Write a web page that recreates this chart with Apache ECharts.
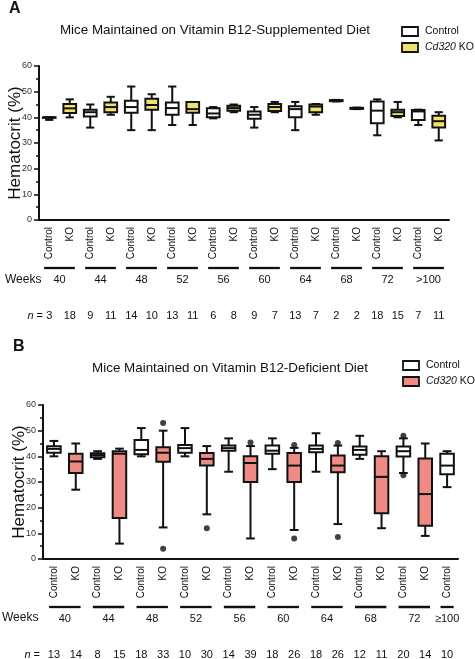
<!DOCTYPE html>
<html>
<head>
<meta charset="utf-8">
<script src="https://cdn.jsdelivr.net/npm/echarts@6/dist/echarts.min.js"></script>
<style>
html,body{margin:0;padding:0;background:#fff;}
#chart{width:475px;height:659px;}
</style>
</head>
<body>
<div id="chart"></div>
<script>
// ---------- Panel A: B12-supplemented diet ----------
const weeksA = ['40', '44', '48', '52', '56', '60', '64', '68', '72', '>100'];
// [min, q1, median, q3, max]
const controlA = [
  [39, 39.8, 40, 40, 40],
  [36, 40.3, 42, 43, 45],
  [35, 41.8, 44, 46.5, 52],
  [37, 41, 43.6, 45.8, 52],
  [39.6, 40, 41.5, 43.5, 44],
  [36, 39.4, 41, 42.3, 44],
  [35, 40, 43.2, 44.3, 46],
  [46.2, 46.3, 46.5, 46.7, 46.8],
  [33, 37.7, 42.6, 46.2, 47],
  [37, 39, 42.3, 42.9, 43]
];
const koA = [
  [40, 41.7, 43.5, 45.2, 47],
  [41, 42, 44, 45.8, 48],
  [35, 43, 44.8, 47.2, 49],
  [37, 41.8, 43.2, 46, 46],
  [42, 42.6, 43.6, 44.5, 45],
  [42, 42.5, 44, 45.2, 46],
  [41, 42, 44.2, 45, 45.2],
  [43.2, 43.3, 43.5, 43.7, 43.8],
  [40, 40.5, 42, 43, 46],
  [31, 36, 38.5, 40.6, 42]
];
const nControlA = [3, 9, 14, 13, 6, 9, 13, 2, 18, 7];
const nKoA = [18, 11, 10, 11, 8, 7, 7, 2, 15, 11];

// ---------- Panel B: B12-deficient diet ----------
const weeksB = ['40', '44', '48', '52', '56', '60', '64', '68', '72', '≥100'];
const controlB = [
  [40, 41.4, 42.9, 43.9, 46],
  [39, 39.6, 40.5, 41.2, 42],
  [40, 40.8, 42.5, 46.4, 51],
  [40, 41.4, 43.2, 44.4, 51],
  [34, 42.2, 43.2, 44.2, 47],
  [35, 41, 42.2, 44.2, 47],
  [34, 41.6, 42.9, 44.2, 49],
  [39, 40.6, 42.5, 43.8, 48],
  [33.5, 39.9, 42, 43.8, 47],
  [28, 33, 36.4, 41, 42]
];
const koB = [
  [27, 33.5, 38, 41, 45],
  [6, 16, 41, 42, 43],
  [12.3, 37.9, 41.4, 43.5, 50],
  [17.4, 36.4, 39, 41.3, 44],
  [8, 30, 37.4, 40, 44],
  [11.3, 30, 36.4, 41.3, 43.3],
  [13.6, 33.8, 36.4, 40.3, 44.2],
  [12, 17.8, 32, 40, 42],
  [9, 13, 25.3, 39.2, 45]
];
// outliers: [weekIndex, value]
const outlierControlB = [[8, 48], [8, 32.6]];
const outlierKoB = [[2, 53], [2, 4], [3, 12], [4, 45.4], [5, 44.4], [5, 8], [6, 45.2], [6, 8.6]];
const nControlB = [13, 8, 18, 10, 14, 18, 18, 12, 20, 10];
const nKoB = [14, 15, 33, 30, 39, 26, 26, 11, 14];

const yTicks = [0, 10, 20, 30, 40, 50, 60];

// ---------- build helpers ----------
function buildCats(weeks, koCount) {
  const cats = [];
  weeks.forEach((w, i) => { cats.push('Control'); if (i < koCount) cats.push('KO'); });
  return cats;
}
const catA = buildCats(weeksA, koA.length);
const catB = buildCats(weeksB, koB.length);

function slotOf(i, grp) { return 2 * i + (grp === 'KO' ? 1 : 0); }

function boxData(stats, grp) {
  return stats.map((s, i) => [slotOf(i, grp)].concat(s));
}
function nData(nc, nk) {
  const out = [];
  nc.forEach((n, i) => out.push([slotOf(i, 'Control'), n]));
  nk.forEach((n, i) => out.push([slotOf(i, 'KO'), n]));
  return out;
}
function weekData(weeks, koCount) {
  return weeks.map((w, i) => [slotOf(i, 'Control'), i < koCount ? slotOf(i, 'KO') : slotOf(i, 'Control'), i]);
}

const FONT = '"Liberation Sans", Arial, Helvetica, sans-serif';
const INK = '#111';

function boxRender(fill) {
  return function (params, api) {
    const x = api.value(0);
    const p = [1, 2, 3, 4, 5].map(k => api.coord([x, api.value(k)]));
    const cx = p[0][0];
    const slot = api.size([1, 0])[0];
    const bw = slot * 0.62, cw = slot * 0.4;
    const yMin = p[0][1], yQ1 = p[1][1], yMed = p[2][1], yQ3 = p[3][1], yMax = p[4][1];
    const ls = { stroke: INK, lineWidth: 2 };
    return {
      type: 'group',
      children: [
        { type: 'line', shape: { x1: cx, y1: yQ3, x2: cx, y2: yMax }, style: ls },
        { type: 'line', shape: { x1: cx, y1: yQ1, x2: cx, y2: yMin }, style: ls },
        { type: 'line', shape: { x1: cx - cw / 2, y1: yMax, x2: cx + cw / 2, y2: yMax }, style: ls },
        { type: 'line', shape: { x1: cx - cw / 2, y1: yMin, x2: cx + cw / 2, y2: yMin }, style: ls },
        { type: 'rect', shape: { x: cx - bw / 2, y: yQ3, width: bw, height: Math.max(yQ1 - yQ3, 0.5) },
          style: { fill: fill, stroke: INK, lineWidth: 2 } },
        { type: 'line', shape: { x1: cx - bw / 2, y1: yMed, x2: cx + bw / 2, y2: yMed }, style: ls }
      ]
    };
  };
}

function weekRender(weeks, halfPair, halfSingle) {
  return function (params, api) {
    const a = api.coord([api.value(0), 0]);
    const b = api.coord([api.value(1), 0]);
    const slot = api.size([1, 0])[0];
    const mid = (a[0] + b[0]) / 2;
    const single = api.value(0) === api.value(1);
    const half = single ? slot * halfSingle : slot * halfPair;
    const y0 = a[1];
    return {
      type: 'group',
      children: [
        { type: 'line', shape: { x1: mid - half, y1: y0 + 48, x2: mid + half, y2: y0 + 48 },
          style: { stroke: INK, lineWidth: 2.3 } },
        { type: 'text', x: mid, y: y0 + 60,
          style: { text: weeks[params.dataIndex], fill: INK, font: '11px ' + FONT, align: 'center', verticalAlign: 'middle' } }
      ]
    };
  };
}

function nRender(params, api) {
  const c = api.coord([api.value(0), 0]);
  return {
    type: 'text', x: c[0], y: c[1] + 96,
    style: { text: String(api.value(1)), fill: INK, font: '11px ' + FONT, align: 'center', verticalAlign: 'middle' }
  };
}

function outlierData(list, grp) { return list.map(o => [slotOf(o[0], grp), o[1]]); }

function yAxis(gi) {
  return {
    type: 'value', gridIndex: gi, min: yTicks[0], max: yTicks[yTicks.length - 1], interval: 10,
    axisLine: { show: true, lineStyle: { color: INK, width: 2 } },
    axisTick: { show: true, length: 5, lineStyle: { color: INK, width: 1.5 } },
    minorTick: { show: true, splitNumber: 2, length: 3, lineStyle: { color: INK, width: 1.5 } },
    splitLine: { show: false },
    axisLabel: { fontSize: 9, color: '#333', margin: 7, fontFamily: FONT },
    name: 'Hematocrit (%)', nameLocation: 'middle', nameGap: 15, nameMoveOverlap: false,
    nameTextStyle: { fontSize: 17, color: INK, fontFamily: FONT }
  };
}
function xAxis(gi, cats) {
  return {
    type: 'category', gridIndex: gi, data: cats, boundaryGap: true,
    axisLine: { lineStyle: { color: INK, width: 2 } },
    axisTick: { alignWithLabel: true, length: 5, lineStyle: { color: INK, width: 1.5 } },
    axisLabel: { rotate: 90, fontSize: 10, color: INK, margin: 7, interval: 0, fontFamily: FONT },
    splitLine: { show: false }
  };
}

const YELLOW = '#f0e36b';
const SALMON = '#f08a84';

function legend(x, y, fill) {
  return [
    { type: 'rect', shape: { x: x, y: y, width: 16, height: 9 }, style: { fill: '#fff', stroke: INK, lineWidth: 1.8 } },
    { type: 'text', x: x + 23, y: y + 4.5, style: { text: 'Control', font: '10.5px ' + FONT, fill: INK, verticalAlign: 'middle' } },
    { type: 'rect', shape: { x: x, y: y + 16, width: 16, height: 9 }, style: { fill: fill, stroke: INK, lineWidth: 1.8 } },
    { type: 'text', x: x + 23, y: y + 20.5, style: { text: '{i|Cd320} KO', font: '10.5px ' + FONT, fill: INK, verticalAlign: 'middle',
      rich: { i: { fontStyle: 'italic', fontSize: 10.5, fontFamily: FONT, fill: INK } } } }
  ];
}

const chart = echarts.init(document.getElementById('chart'), null, { renderer: 'canvas' });
chart.setOption({
  animation: false,
  backgroundColor: '#fff',
  textStyle: { fontFamily: FONT },
  grid: [
    { left: 39, right: 26, top: 66, bottom: 439, outerBoundsMode: 'none' },
    { left: 43, right: 17, top: 405, bottom: 100, outerBoundsMode: 'none' }
  ],
  xAxis: [xAxis(0, catA), xAxis(1, catB)],
  yAxis: [yAxis(0), yAxis(1)],
  graphic: [
    { type: 'text', x: 9, y: 1, style: { text: 'A', font: 'bold 16px ' + FONT, fill: INK } },
    { type: 'text', x: 13, y: 339, style: { text: 'B', font: 'bold 16px ' + FONT, fill: INK } },
    { type: 'text', x: 215, y: 30, style: { text: 'Mice Maintained on Vitamin B12-Supplemented Diet', font: '13.4px ' + FONT, fill: INK, align: 'center', verticalAlign: 'middle' } },
    { type: 'text', x: 230, y: 368, style: { text: 'Mice Maintained on Vitamin B12-Deficient Diet', font: '13.4px ' + FONT, fill: INK, align: 'center', verticalAlign: 'middle' } },
    { type: 'text', x: 5, y: 280, style: { text: 'Weeks', font: '12px ' + FONT, fill: INK, verticalAlign: 'middle' } },
    { type: 'text', x: 2, y: 618, style: { text: 'Weeks', font: '12px ' + FONT, fill: INK, verticalAlign: 'middle' } },
    { type: 'text', x: 43, y: 316, style: { text: '{i|n} =', font: '11px ' + FONT, fill: INK, align: 'right', verticalAlign: 'middle', rich: { i: { fontStyle: 'italic', fontSize: 11, fontFamily: FONT, fill: INK } } } },
    { type: 'text', x: 40, y: 655, style: { text: '{i|n} =', font: '11px ' + FONT, fill: INK, align: 'right', verticalAlign: 'middle', rich: { i: { fontStyle: 'italic', fontSize: 11, fontFamily: FONT, fill: INK } } } }
  ].concat(legend(402, 27, YELLOW)).concat(legend(403, 361, SALMON)),
  series: [
    { type: 'custom', name: 'Control', xAxisIndex: 0, yAxisIndex: 0, clip: false, renderItem: boxRender('#fff'),
      data: boxData(controlA, 'Control'), encode: { x: 0, y: [1, 2, 3, 4, 5] } },
    { type: 'custom', name: 'Cd320 KO', xAxisIndex: 0, yAxisIndex: 0, clip: false, renderItem: boxRender(YELLOW),
      data: boxData(koA, 'KO'), encode: { x: 0, y: [1, 2, 3, 4, 5] } },
    { type: 'custom', xAxisIndex: 0, yAxisIndex: 0, clip: false, renderItem: weekRender(weeksA, 0.75, 0.3),
      data: weekData(weeksA, koA.length), encode: { x: [0, 1] } },
    { type: 'custom', xAxisIndex: 0, yAxisIndex: 0, clip: false, renderItem: nRender,
      data: nData(nControlA, nKoA), encode: { x: 0 } },

    { type: 'custom', name: 'Control', xAxisIndex: 1, yAxisIndex: 1, clip: false, renderItem: boxRender('#fff'),
      data: boxData(controlB, 'Control'), encode: { x: 0, y: [1, 2, 3, 4, 5] } },
    { type: 'custom', name: 'Cd320 KO', xAxisIndex: 1, yAxisIndex: 1, clip: false, renderItem: boxRender(SALMON),
      data: boxData(koB, 'KO'), encode: { x: 0, y: [1, 2, 3, 4, 5] } },
    { type: 'scatter', xAxisIndex: 1, yAxisIndex: 1, symbol: 'circle', symbolSize: 6,
      itemStyle: { color: INK }, data: outlierData(outlierControlB, 'Control').concat(outlierData(outlierKoB, 'KO')) },
    { type: 'custom', xAxisIndex: 1, yAxisIndex: 1, clip: false, renderItem: weekRender(weeksB, 0.72, 0.3),
      data: weekData(weeksB, koB.length), encode: { x: [0, 1] } },
    { type: 'custom', xAxisIndex: 1, yAxisIndex: 1, clip: false, renderItem: nRender,
      data: nData(nControlB, nKoB), encode: { x: 0 } }
  ]
});
</script>
</body>
</html>
